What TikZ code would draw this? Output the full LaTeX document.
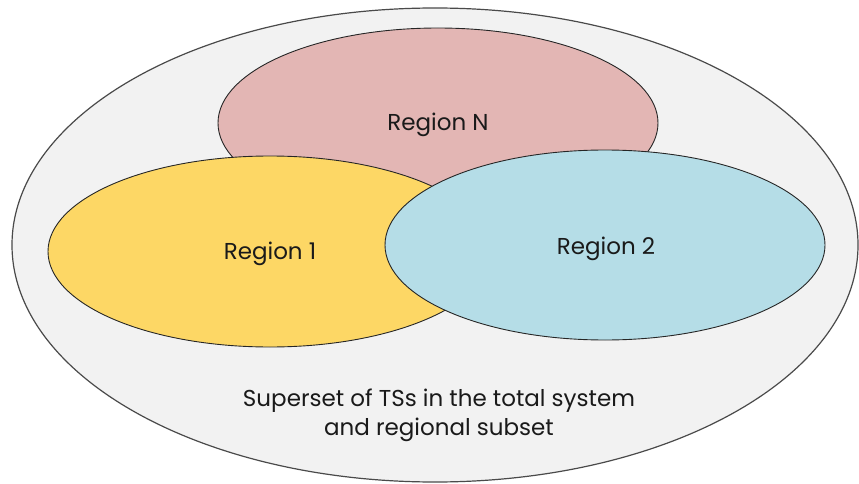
\documentclass[tikz,border=0pt]{standalone}
\usepackage{fontspec}
\setmainfont{Poppins}
\usetikzlibrary{shapes.geometric}
\definecolor{outerfill}{HTML}{F2F2F2}
\definecolor{outerline}{HTML}{4A4A4A}
\definecolor{pinkfill}{HTML}{E3B6B4}
\definecolor{yellowfill}{HTML}{FDD765}
\definecolor{bluefill}{HTML}{B5DDE7}
\definecolor{textcol}{HTML}{1A1A1A}
\begin{document}
\begin{tikzpicture}[x=1pt,y=-1pt,
  setshape/.style={ellipse,draw=black!85,line width=0.9pt,inner sep=0pt},
  lbl/.style={text=textcol,font=\fontsize{23}{29}\selectfont,inner sep=0pt}]
\useasboundingbox (0,0) rectangle (859,484);
\node[setshape,draw=outerline,line width=1.2pt,fill=outerfill,
  minimum width=846pt,minimum height=474pt] (outer) at (435,245) {};
\node[setshape,fill=pinkfill,minimum width=440pt,minimum height=190pt] (rn) at (438,123) {};
\node[setshape,fill=yellowfill,minimum width=444pt,minimum height=191pt] (r1) at (270,251.5) {};
\node[setshape,fill=bluefill,minimum width=440pt,minimum height=190pt] (r2) at (605,245) {};
\node[lbl,anchor=base] (rnl) at (438,131) {Region N};
\node[lbl,anchor=base] (r1l) at (270,259) {Region 1};
\node[lbl,anchor=base] (r2l) at (606,254) {Region 2};
\node[lbl,anchor=base] (sup1) at (439,406) {Superset of TSs in the total system};
\node[lbl,anchor=base] (sup2) at (439,435) {and regional subset};
\end{tikzpicture}
\end{document}
